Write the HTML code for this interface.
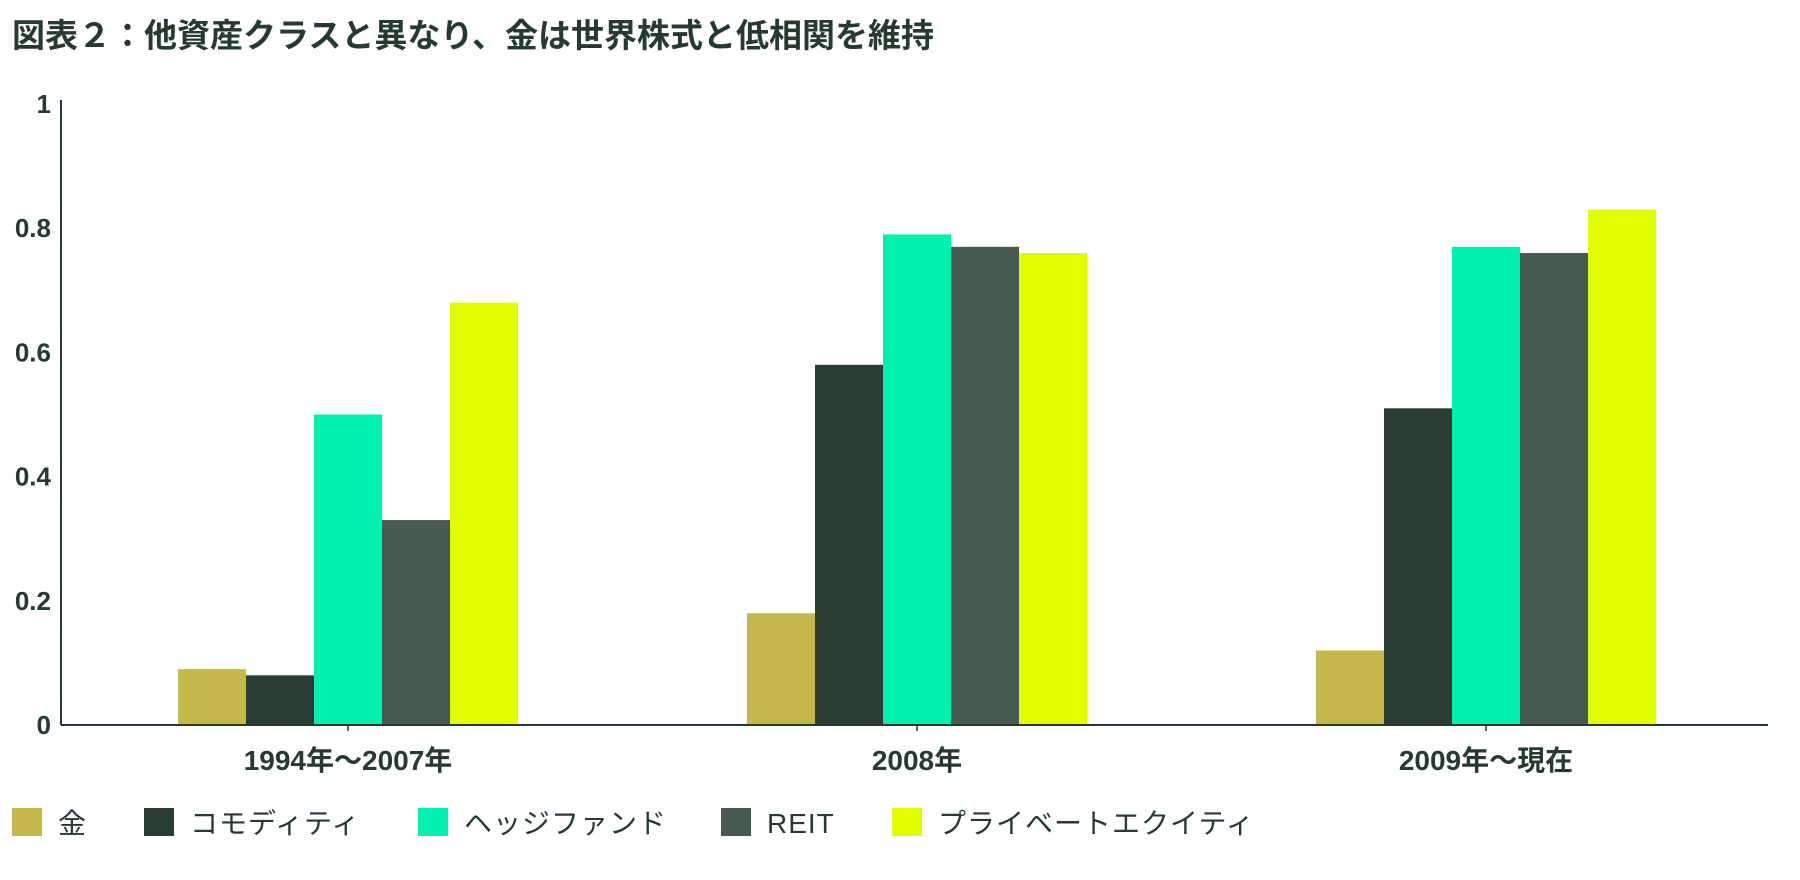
<!DOCTYPE html>
<html><head><meta charset="utf-8"><style>
body{margin:0;background:#fff;width:1800px;height:875px;overflow:hidden;font-family:"Liberation Sans","Noto Sans CJK JP",sans-serif;color:#263a30}
</style></head><body>
<svg width="1800" height="875">
<text x="12" y="47" font-size="33" font-weight="bold" fill="#263a30" font-family="Liberation Sans, Noto Sans CJK JP, sans-serif">図表２：他資産クラスと異なり、金は世界株式と低相関を維持</text>
<g id="plot"></g>
<g id="legend"></g>
</svg>
<script>
const categories=["1994年～2007年","2008年","2009年～現在"];
const seriesNames=["金","コモディティ","ヘッジファンド","REIT","プライベートエクイティ"];
const gold=[0.09,0.18,0.12];
const commodity=[0.08,0.58,0.51];
const hedge=[0.5,0.79,0.77];
const reit=[0.33,0.77,0.76];
const pe=[0.68,0.76,0.83];
const yTicks=[0,0.2,0.4,0.6,0.8,1];
const yTickLabels=["0","0.2","0.4","0.6","0.8","1"];
const series=[gold,commodity,hedge,reit,pe];
const colors=["#c4b84c","#283e33","#00f0ad","#485a4f","#e2ff00"];
const NS="http://www.w3.org/2000/svg";
const L=61,R=1768,T=104,B=725;
const y=v=>B-(B-T)*v;
const band=(R-L)/categories.length;
const bw=68;
const cxf=i=>L+2.5+band*(i+0.5);
const x=(i,s)=>cxf(i)-bw*series.length/2+bw*s;
const g=document.getElementById('plot');
function mk(tag,at,parent){const e=document.createElementNS(NS,tag);for(const k in at)e.setAttribute(k,at[k]);parent.appendChild(e);return e;}
series.forEach((arr,s)=>arr.forEach((v,i)=>{
 const r=mk('rect',{x:x(i,s),y:y(v),width:bw,height:B-y(v),fill:colors[s]},g);
 
 
}));
const ax=mk('line',{x1:L,y1:T-4,x2:L,y2:B,stroke:'#263a30','stroke-width':2},g);


const xa=mk('line',{x1:L,y1:B,x2:R,y2:B,stroke:'#263a30','stroke-width':2},g);


yTicks.forEach((t,i)=>{
 const tx=mk('text',{x:51,y:y(t)+9,'text-anchor':'end','font-size':26,'font-weight':'bold',fill:'#263a30'},g);
 tx.textContent=yTickLabels[i];
 
 
});
categories.forEach((c,i)=>{
 const cx=cxf(i);
 mk('line',{x1:cx,y1:B,x2:cx,y2:B+6,stroke:'#263a30','stroke-width':1.5},g);
 const tx=mk('text',{x:cx,y:770,'text-anchor':'middle','font-size':28,'font-weight':'bold',fill:'#263a30'},g);
 tx.textContent=c;
 
 
});
const lg=document.getElementById('legend');
const lx=[12,144,418,721,892];
seriesNames.forEach((n,s)=>{
 const r=mk('rect',{x:lx[s],y:808,width:30,height:28,fill:colors[s]},lg);
 
 
 const t=mk('text',{x:lx[s]+46,y:833,'font-size':28,fill:'#263a30','letter-spacing':1},lg);
 t.textContent=n;
 
 
});
</script>
</body></html>
